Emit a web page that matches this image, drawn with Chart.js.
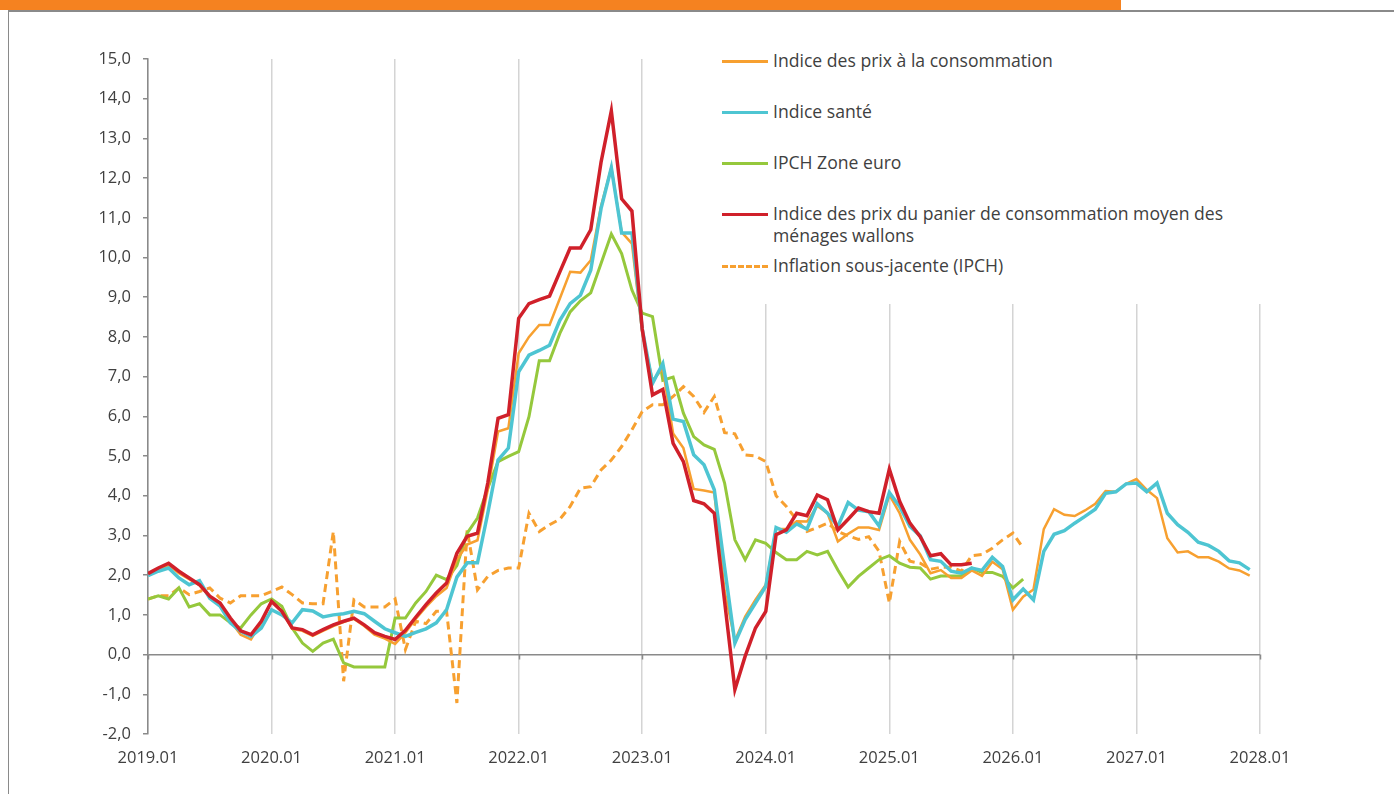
<!DOCTYPE html>
<html lang="fr">
<head>
<meta charset="utf-8">
<script src="https://cdn.jsdelivr.net/npm/chart.js@4/dist/chart.umd.min.js"></script>
<style>
  html, body { margin: 0; padding: 0; background: #fff; }
  body { width: 1394px; height: 794px; position: relative; overflow: hidden; font-family: "Open Sans", sans-serif; }
  .topbar { position: absolute; left: 0; top: 0; width: 1121px; height: 10px; background: #f58220; }
  .frame { position: absolute; left: 8px; top: 10px; right: -2px; bottom: -2px; border-top: 2px solid #8a8a8a; border-left: 1px solid #8a8a8a; }
  .wrap { position: absolute; left: 0; top: 0; width: 1394px; height: 794px; }
  #legend { position: absolute; left: 716px; top: 48px; width: 560px; background: #fff; padding: 0; color: #404040; font-size: 17.6px; }
  #legend .item { display: flex; align-items: flex-start; height: 51px; }
  #legend .item.two { height: 52px; }
  #legend .swatch { width: 46px; margin-left: 6px; margin-right: 5px; margin-top: 12px; border-top: 3px solid; flex: none; }
  #legend .txt { line-height: 22px; margin-top: 1px; }
</style>
</head>
<body>
<div class="topbar"></div>
<div class="frame"></div>
<div class="wrap"><canvas id="inflChart" width="1394" height="794"></canvas></div>
<div id="legend"></div>
<script>
// mois depuis 2019.01 (0 = 2019.01)
const yearLabels = ["2019.01", "2020.01", "2021.01", "2022.01", "2023.01", "2024.01", "2025.01", "2026.01", "2027.01", "2028.01"];

const seriesNames = [
  "Indice des prix à la consommation",
  "Indice santé",
  "IPCH Zone euro",
  "Indice des prix du panier de consommation moyen des ménages wallons",
  "Inflation sous-jacente (IPCH)"
];

const ipc = [
  2.0, 2.15, 2.25, 2.05, 1.9, 1.75, 1.45, 1.3, 0.85, 0.5, 0.38, 0.8,
  1.35, 1.1, 0.65, 0.6, 0.47, 0.6, 0.72, 0.82, 0.9, 0.72, 0.5, 0.4,
  0.27, 0.55, 0.9, 1.2, 1.47, 1.68, 2.39, 2.77, 2.88, 4.15, 5.62, 5.7,
  7.59, 8.0, 8.3, 8.3, 8.97, 9.64, 9.62, 9.93, 11.3, 12.27, 10.64, 10.35,
  8.1, 6.9, 7.2, 5.57, 5.2, 4.17, 4.13, 4.08, 1.6, 0.35, 0.96, 1.38,
  1.76, 3.16, 3.16, 3.36, 3.35, 3.74, 3.56, 2.85, 3.04, 3.2, 3.2, 3.14,
  4.02, 3.56, 2.89, 2.52, 2.05, 2.13, 1.93, 1.93, 2.12, 1.98, 2.34, 2.15,
  1.13, 1.46, 1.64, 3.16, 3.66, 3.52, 3.49, 3.63, 3.8, 4.12, 4.1, 4.3,
  4.42, 4.15, 3.94, 2.93, 2.57, 2.6, 2.45, 2.45, 2.34, 2.17, 2.12, 1.99
];

const sante = [
  1.99, 2.1, 2.18, 1.93, 1.76, 1.86, 1.42, 1.22, 0.8, 0.59, 0.46, 0.67,
  1.13, 1.0, 0.8, 1.13, 1.1, 0.95, 1.0, 1.03, 1.09, 1.03, 0.84, 0.65,
  0.55, 0.46, 0.56, 0.65, 0.8, 1.13, 1.95, 2.31, 2.31, 3.56, 4.9, 5.2,
  7.12, 7.54, 7.66, 7.79, 8.42, 8.84, 9.05, 9.68, 11.23, 12.26, 10.62, 10.62,
  8.2, 6.83, 7.33, 5.93, 5.87, 5.03, 4.78, 4.15, 2.2, 0.29, 0.88, 1.3,
  1.72, 3.2, 3.08, 3.29, 3.16, 3.8, 3.56, 3.23, 3.83, 3.64, 3.6, 3.24,
  4.08, 3.73, 3.23, 2.99, 2.39, 2.35, 2.1, 2.05, 2.18, 2.12, 2.45, 2.22,
  1.38, 1.65, 1.38, 2.6, 3.03, 3.12, 3.31, 3.48, 3.66, 4.06, 4.1, 4.3,
  4.32, 4.1, 4.32, 3.56, 3.27, 3.08, 2.83, 2.75, 2.6, 2.36, 2.31, 2.14
];

const ipchZoneEuro = [
  1.4, 1.48, 1.4, 1.68, 1.2, 1.28, 1.0, 1.0, 0.8, 0.67, 1.0, 1.28,
  1.4, 1.22, 0.67, 0.29, 0.08, 0.29, 0.39, -0.21, -0.31, -0.31, -0.31, -0.31,
  0.92, 0.92, 1.3, 1.59, 2.0, 1.89, 2.24, 3.06, 3.44, 4.19, 4.86, 4.99,
  5.11, 5.99, 7.4, 7.4, 8.09, 8.63, 8.91, 9.11, 9.85, 10.59, 10.1, 9.18,
  8.6, 8.51, 6.91, 6.99, 6.08, 5.49, 5.28, 5.17, 4.32, 2.89, 2.39, 2.89,
  2.8, 2.57, 2.39, 2.39, 2.6, 2.51, 2.6, 2.13, 1.7, 1.97, 2.18, 2.39,
  2.49, 2.3, 2.2, 2.18, 1.9, 1.98, 1.98, 1.98, 2.18, 2.07, 2.07, 1.97,
  1.68, 1.9
];

const panierWallon = [
  2.04, 2.18, 2.3, 2.1, 1.93, 1.76, 1.47, 1.3, 0.92, 0.6, 0.5, 0.84,
  1.34, 1.09, 0.67, 0.63, 0.5, 0.63, 0.75, 0.84, 0.92, 0.75, 0.55, 0.46,
  0.38, 0.61, 0.94, 1.26, 1.55, 1.8, 2.55, 2.98, 3.06, 4.32, 5.95, 6.04,
  8.47, 8.84, 8.94, 9.03, 9.64, 10.24, 10.24, 10.7, 12.4, 13.69, 11.48, 11.17,
  8.2, 6.54, 6.68, 5.32, 4.86, 3.88, 3.8, 3.56, 1.34, -0.88, -0.04, 0.67,
  1.09, 3.02, 3.14, 3.56, 3.5, 4.02, 3.9, 3.14, 3.41, 3.69, 3.6, 3.56,
  4.67, 3.86, 3.31, 2.97, 2.49, 2.54, 2.26, 2.26, 2.3
];

const inflationSousJacente = [
  1.4, 1.48, 1.48, 1.68, 1.51, 1.59, 1.68, 1.42, 1.3, 1.48, 1.48, 1.48,
  1.59, 1.7, 1.51, 1.3, 1.28, 1.28, 3.1, -0.67, 1.38, 1.2, 1.2, 1.2,
  1.4, 0.13, 0.84, 0.78, 1.09, 1.09, -1.22, 3.14, 1.63, 1.97, 2.12, 2.18,
  2.18, 3.56, 3.1, 3.27, 3.41, 3.73, 4.19, 4.23, 4.65, 4.9, 5.24, 5.66,
  6.12, 6.29, 6.29, 6.5, 6.75, 6.5, 6.1, 6.5, 5.59, 5.56, 5.03, 5.0,
  4.86, 4.0, 3.73, 3.39, 3.1, 3.2, 3.31, 3.1, 2.99, 2.9, 2.97, 2.6,
  1.3, 2.85, 2.35, 2.3, 2.15, 2.2, 2.2, 2.1, 2.49, 2.52, 2.68, 2.89,
  3.06, 2.68
];

const colors = ["#f7a030", "#4ec5d2", "#95c83c", "#d0202a", "#f7a030"];
const widths = [2.5, 3.5, 3, 3.5, 3];

function toPoints(arr){
  return arr.map((v, i) => ({ x: i, y: v }));
}

const allSeries = [ipc, sante, ipchZoneEuro, panierWallon, inflationSousJacente];
// ordre de dessin : pointillé, zone euro, ipc, santé, panier wallon au-dessus
const drawOrder = [4, 2, 0, 1, 3];

const datasets = allSeries.map((arr, k) => ({
  label: seriesNames[k],
  data: toPoints(arr),
  borderColor: colors[k],
  backgroundColor: colors[k],
  borderWidth: widths[k],
  borderDash: k === 4 ? [8, 5] : [],
  pointRadius: 0,
  tension: 0,
  order: drawOrder.length - drawOrder.indexOf(k)
}));

const fontFam = '"Open Sans", sans-serif';

// petites graduations des années sur l'axe du zéro
const zeroTicks = {
  id: "zeroTicks",
  afterDatasetsDraw(chart){
    const { ctx, scales: { x, y } } = chart;
    const y0 = y.getPixelForValue(0);
    ctx.save();
    ctx.strokeStyle = "#8a8a8a";
    ctx.lineWidth = 1.5;
    ctx.beginPath();
    for (let i = 0; i < yearLabels.length; i++){
      const px = Math.round(x.getPixelForValue(i * 12)) + 0.5;
      ctx.moveTo(px, y0);
      ctx.lineTo(px, y0 + 5);
    }
    ctx.stroke();
    ctx.restore();
  }
};

new Chart(document.getElementById("inflChart"), {
  type: "line",
  data: { datasets },
  options: {
    responsive: false,
    animation: false,
    layout: { padding: { top: 59, right: 134, bottom: 0, left: 0 } },
    plugins: { legend: { display: false }, tooltip: { enabled: false } },
    scales: {
      x: {
        type: "linear",
        min: 0,
        max: 108,
        afterBuildTicks(scale){
          scale.ticks = yearLabels.map((_, i) => ({ value: i * 12 }));
        },
        afterFit(scale){ scale.height = 60; },
        border: { display: false },
        grid: { color: "#d4d4d4", lineWidth: 1.5, drawTicks: false },
        ticks: {
          padding: 14,
          color: "#404040",
          font: { family: fontFam, size: 16.5 },
          maxRotation: 0,
          callback: (v) => yearLabels[v / 12]
        }
      },
      y: {
        min: -2,
        max: 15,
        afterFit(scale){ scale.width = 148; },
        border: { display: true, color: "#8a8a8a", width: 1.5 },
        grid: {
          color: (c) => c.tick && c.tick.value === 0 ? "#8a8a8a" : "rgba(0,0,0,0)",
          lineWidth: 1.5,
          tickColor: "#8a8a8a",
          tickLength: 5
        },
        ticks: {
          stepSize: 1,
          padding: 12,
          color: "#404040",
          font: { family: fontFam, size: 16.5 },
          callback: (v) => v.toFixed(1).replace(".", ",")
        }
      }
    }
  },
  plugins: [zeroTicks]
});

// légende HTML
const legendEl = document.getElementById("legend");
[0, 1, 2, 3, 4].forEach(k => {
  const item = document.createElement("div");
  item.className = "item" + (k === 3 ? " two" : "");
  const sw = document.createElement("span");
  sw.className = "swatch";
  sw.style.borderTopColor = colors[k];
  if (k === 4) sw.style.borderTopStyle = "dashed";
  const tx = document.createElement("span");
  tx.className = "txt";
  tx.textContent = seriesNames[k];
  item.appendChild(sw);
  item.appendChild(tx);
  legendEl.appendChild(item);
});
</script>
</body>
</html>
